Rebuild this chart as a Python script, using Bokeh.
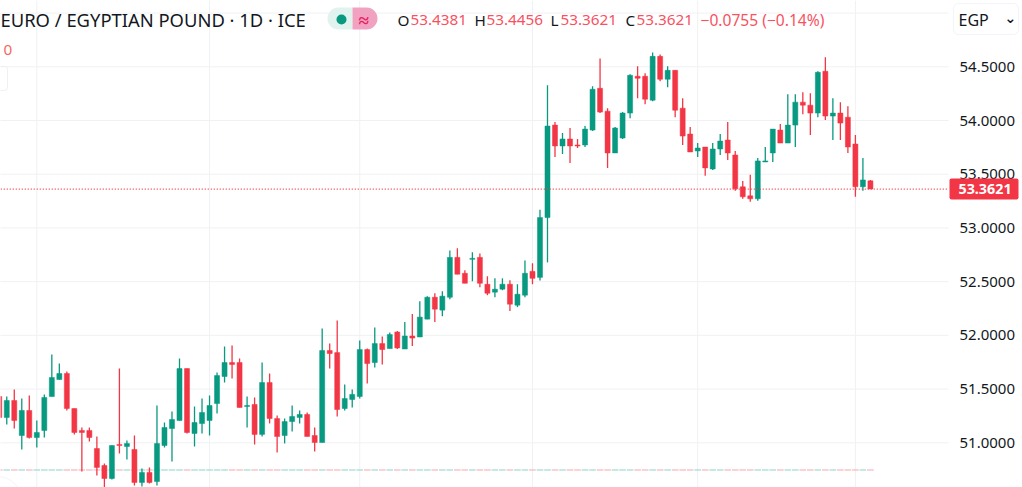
from bokeh.embed import file_html
from bokeh.models import (BoxAnnotation, ColumnDataSource, FixedTicker, Label,
                          LinearAxis, NumeralTickFormatter, Range1d, Span)
from bokeh.plotting import figure
from bokeh.resources import INLINE

opens = [51.431, 51.236, 51.394, 51.068, 51.301, 51.05, 51.115, 51.431, 51.589, 51.645,
         51.319, 51.115, 51.115, 50.947, 50.789, 50.668, 50.985, 50.966, 50.938, 50.631,
         50.724, 50.64, 50.975, 51.133, 51.208, 51.691, 51.087, 51.18, 51.208, 51.366,
         51.617, 51.747, 51.747, 51.338, 51.357, 51.078, 51.561, 51.226, 51.068, 51.198,
         51.236, 51.264, 51.068, 51.003, 51.859, 51.84, 51.319, 51.403, 51.431, 51.868,
         51.747, 51.924, 51.877, 52.031, 51.873, 51.994, 51.985, 52.151, 52.355, 52.235,
         52.355, 52.726, 52.578, 52.708, 52.726, 52.476, 52.402, 52.43, 52.476, 52.281,
         52.374, 52.596, 52.54, 53.096, 53.957, 53.763, 53.828, 53.772, 53.772, 53.911,
         54.3, 54.087, 53.698, 53.837, 54.069, 54.412, 54.412, 54.189, 54.597, 54.384,
         54.467, 54.115, 53.874, 53.716, 53.753, 53.549, 53.735, 53.818, 53.679, 53.383,
         53.299, 53.271, 53.614, 53.698, 53.911, 53.79, 53.957, 54.171, 54.143, 54.069,
         54.458, 54.041, 54.069, 54.031, 53.781, 53.383, 53.4381]
closes = [51.236, 51.394, 51.208, 51.301, 51.05, 51.096, 51.422, 51.608, 51.645, 51.319,
          51.096, 51.096, 51.05, 50.771, 50.668, 50.975, 50.975, 50.994, 50.631, 50.724,
          50.631, 50.994, 51.143, 51.217, 51.691, 51.096, 51.189, 51.282, 51.347, 51.626,
          51.747, 51.729, 51.329, 51.347, 51.078, 51.561, 51.226, 51.059, 51.198, 51.245,
          51.264, 51.059, 51.003, 51.859, 51.831, 51.31, 51.412, 51.45, 51.868, 51.738,
          51.924, 51.868, 52.008, 51.883, 51.994, 51.975, 52.17, 52.355, 52.244, 52.365,
          52.726, 52.569, 52.485, 52.717, 52.485, 52.392, 52.43, 52.476, 52.29, 52.383,
          52.578, 52.531, 53.096, 53.948, 53.763, 53.828, 53.763, 53.763, 53.92, 54.291,
          54.078, 53.698, 53.93, 54.069, 54.421, 54.393, 54.198, 54.597, 54.384, 54.467,
          54.096, 53.855, 53.707, 53.744, 53.559, 53.735, 53.809, 53.698, 53.364, 53.29,
          53.271, 53.624, 53.624, 53.92, 53.79, 53.957, 54.171, 54.143, 54.069, 54.449,
          54.041, 54.069, 53.976, 53.753, 53.383, 53.447, 53.3621]
highs = [51.47, 51.431, 51.496, 51.412, 51.44, 51.208, 51.45, 51.822, 51.738, 51.663,
         51.319, 51.143, 51.143, 51.059, 50.808, 50.975, 51.691, 51.022, 51.068, 50.761,
         50.771, 51.347, 51.189, 51.291, 51.784, 51.691, 51.338, 51.412, 51.44, 51.654,
         51.896, 51.905, 51.784, 51.431, 51.422, 51.747, 51.645, 51.254, 51.226, 51.347,
         51.301, 51.282, 51.143, 52.063, 51.924, 52.138, 51.543, 51.496, 51.952, 51.877,
         52.073, 51.989, 52.026, 52.04, 52.124, 52.198, 52.318, 52.365, 52.392, 52.411,
         52.791, 52.81, 52.606, 52.773, 52.763, 52.55, 52.531, 52.531, 52.513, 52.476,
         52.698, 52.671, 53.17, 54.328, 53.985, 53.883, 53.93, 53.828, 53.948, 54.319,
         54.578, 54.115, 53.939, 54.078, 54.43, 54.504, 54.439, 54.634, 54.615, 54.504,
         54.467, 54.208, 53.939, 53.79, 53.753, 53.79, 53.874, 53.985, 53.716, 53.438,
         53.494, 53.651, 53.753, 53.92, 53.967, 54.245, 54.245, 54.263, 54.254, 54.458,
         54.588, 54.208, 54.171, 54.133, 53.865, 53.651, 53.4456]
lows = [51.19, 51.171, 51.133, 50.938, 51.04, 50.957, 51.05, 51.431, 51.589, 51.301,
        51.078, 50.733, 51.012, 50.696, 50.585, 50.659, 50.901, 50.845, 50.603, 50.594,
        50.622, 50.603, 50.957, 50.826, 51.208, 51.087, 50.966, 51.087, 51.068, 51.273,
        51.561, 51.598, 51.329, 51.143, 50.985, 51.059, 51.18, 50.91, 50.994, 51.105,
        51.18, 51.059, 50.919, 51.003, 51.691, 51.245, 51.301, 51.329, 51.412, 51.552,
        51.701, 51.729, 51.877, 51.873, 51.873, 51.901, 51.985, 52.151, 52.124, 52.179,
        52.337, 52.569, 52.485, 52.504, 52.448, 52.374, 52.355, 52.42, 52.226, 52.263,
        52.355, 52.476, 52.51, 52.679, 53.661, 53.688, 53.605, 53.744, 53.753, 53.902,
        54.069, 53.559, 53.698, 53.828, 54.022, 54.208, 54.152, 54.18, 54.365, 54.31,
        54.031, 53.772, 53.707, 53.661, 53.485, 53.54, 53.679, 53.633, 53.346, 53.271,
        53.244, 53.253, 53.614, 53.614, 53.79, 53.79, 53.753, 54.059, 53.865, 54.031,
        54.004, 53.818, 53.818, 53.698, 53.29, 53.346, 53.3621]
price_ticks = [51.0, 51.5, 52.0, 52.5, 53.0, 53.5, 54.0, 54.5, 55.0]
time_ticks = [5, 28, 48, 71, 93, 114]
last_price = 53.3621
volume_level = 50.747

UP = "#089981"
DOWN = "#F23645"
INK = "#131722"
SOFT_RED = "#F7525F"
GRID = "#F0F1F4"
FONT = "Noto Sans"
PANE_END = 126.4   # candle index where the price scale starts

xs = list(range(len(opens)))
colors = [UP if c >= o else DOWN for o, c in zip(opens, closes)]
vol_colors = ["#8FD3C7" if c == UP else "#F5A6AC" for c in colors]
source = ColumnDataSource(dict(
    x=xs,
    x0=[i - 0.44 for i in xs],
    x1=[i + 0.44 for i in xs],
    vol=[volume_level] * len(xs),
    open=opens,
    close=closes,
    high=highs,
    low=lows,
    color=colors,
    vol_color=vol_colors,
))

p = figure(
    width=1022,
    height=487,
    output_backend="svg",
    toolbar_location=None,
    x_range=Range1d(0.166, 136.25),
    y_range=Range1d(50.584, 55.117),
    x_axis_location=None,
    y_axis_location=None,
    min_border=0,
    outline_line_color=None,
)

# price scale sits inside the frame so the header widgets can reach the right edge
axis = LinearAxis(
    ticker=FixedTicker(ticks=price_ticks),
    formatter=NumeralTickFormatter(format="0.0000"),
    major_label_overrides={55.0: ""},
    axis_line_color=None,
    major_tick_line_color=None,
    minor_tick_line_color=None,
    major_label_standoff=5,
    major_label_text_font=FONT,
    major_label_text_font_size="15px",
    major_label_text_color=INK,
    fixed_location=PANE_END,
)
p.add_layout(axis, "right")

for s in p.grid:
    s.visible = False
for t in time_ticks:
    p.add_layout(Span(location=t, dimension="height", line_color=GRID, line_width=1, level="underlay"))
p.segment(x0=[xs[0] - 1] * len(price_ticks), x1=[PANE_END] * len(price_ticks), y0=price_ticks, y1=price_ticks,
          line_color=GRID, line_width=1, level="underlay")

p.segment("x0", "vol", "x1", "vol", source=source, color="vol_color", line_width=1)
p.segment("x", "low", "x", "high", source=source, color="color", line_width=1.3)
p.vbar(x="x", top="open", bottom="close", width=0.67, source=source,
       fill_color="color", line_color="color", line_width=0.5)

p.line(x=[xs[0] - 1, PANE_END], y=[last_price, last_price], line_color=DOWN,
       line_width=1.2, line_dash=[1, 2])


def text(x, y, s, color=INK, size="15.3px", weight="normal", font=FONT, **kw):
    p.add_layout(Label(x=x, y=487 - y, x_units="screen", y_units="screen", text=s, text_color=color,
                       text_font=font, text_font_size=size, text_font_style=weight,
                       text_baseline="middle", **kw))


def box(left, right, top, bottom, fill, radius=0, line=None):
    p.add_layout(BoxAnnotation(left=left, right=right, top=487 - top, bottom=487 - bottom,
                               left_units="screen", right_units="screen",
                               top_units="screen", bottom_units="screen",
                               fill_color=fill, fill_alpha=1, line_color=line, line_width=1,
                               border_radius=radius, level="annotation"))


# header
text(0, 19, "EURO / EGYPTIAN POUND · 1D · ICE", size="18.4px")
box(327, 352, 7, 29, "#E0F3EF", radius=dict(top_left=11, top_right=0, bottom_right=0, bottom_left=11))
box(352, 377, 7, 29, "#F1A2C0", radius=dict(top_left=0, top_right=11, bottom_right=11, bottom_left=0))
box(336, 346, 14, 24, UP, radius=5)
text(358, 19, "≈", color="#E91E63", size="19px", weight="bold")
text(397, 19, "O")
text(410, 19, "53.4381", color=SOFT_RED)
text(474, 19, "H")
text(486, 19, "53.4456", color=SOFT_RED)
text(550, 19, "L")
text(560, 19, "53.3621", color=SOFT_RED)
text(625, 19, "C")
text(636, 19, "53.3621", color=SOFT_RED)
text(700, 19, "−0.0755 (−0.14%)", color=SOFT_RED, size="15.6px")
text(3, 49, "0", color="#F7665F")
box(-6, 7, 66, 90, "#FFFFFF", radius=3, line="#C9CCDA")

# currency selector
box(953, 1018, 3, 34, "#FFFFFF", radius=5, line="#D8DBEC")
text(958, 19, "EGP", size="16px")
text(1004, 17, "⌄", size="14px", font="DejaVu Sans", weight="bold")

# last price tag
box(949, 1018, 178, 199, DOWN, radius=2)
text(958, 188, "53.3621", color="#FFFFFF", size="14.3px", weight="bold")

# corner button
box(-27, 21, 476, 524, "#FFFFFF", radius=24, line="#DADCE8")

open("out.html", "w").write(file_html(p, INLINE))
